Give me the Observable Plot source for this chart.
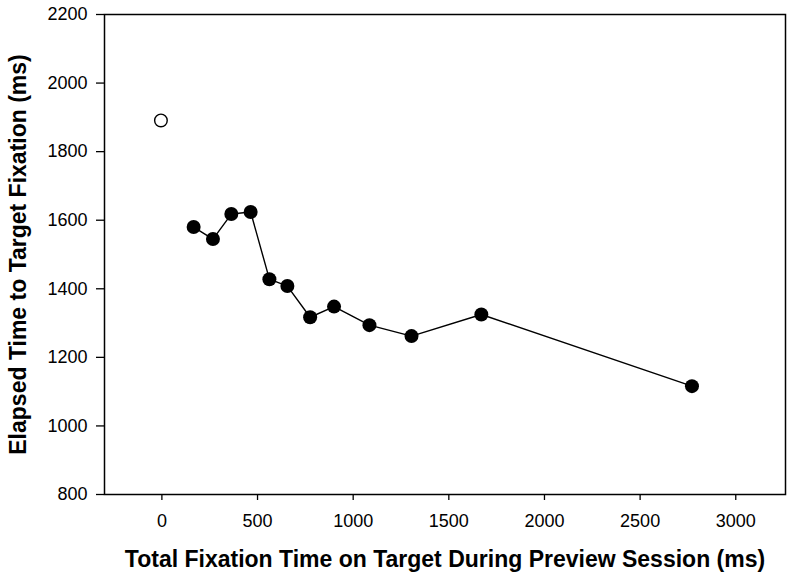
<!DOCTYPE html>
<html>
<head>
<meta charset="utf-8">
<script src="https://cdn.jsdelivr.net/npm/d3@7"></script>
<script src="https://cdn.jsdelivr.net/npm/@observablehq/plot@0.6"></script>
<style>
  html, body { margin: 0; padding: 0; background: #fff; }
  #chart svg { display: block; }
</style>
</head>
<body>
<div id="chart"></div>
<script>
// Open (baseline) point
const baselineX = [-5];
const baselineY = [1891];

// Filled series
const fixationTime = [166, 267, 363, 464, 562, 656, 775, 900, 1085, 1305, 1670, 2771];
const elapsedTime  = [1580, 1545, 1618, 1624, 1428, 1408, 1317, 1348, 1294, 1262, 1325, 1116];

const xTicks = [0, 500, 1000, 1500, 2000, 2500, 3000];
const yTicks = [800, 1000, 1200, 1400, 1600, 1800, 2000, 2200];

const xTitle = "Total Fixation Time on Target During Preview Session (ms)";
const yTitle = "Elapsed Time to Target Fixation (ms)";

const series = fixationTime.map((x, i) => ({x, y: elapsedTime[i]}));
const baseline = baselineX.map((x, i) => ({x, y: baselineY[i]}));

const chart = Plot.plot({
  width: 800,
  height: 582,
  marginLeft: 104,
  marginRight: 15,
  marginTop: 14,
  marginBottom: 88,
  style: {fontFamily: "'Liberation Sans', Arial, sans-serif", color: "#000", background: "#fff"},
  x: {domain: [-300, 3260]},
  y: {domain: [800, 2200]},
  marks: [
    Plot.axisX({ticks: xTicks, tickFormat: d => String(d), tickSize: 6, tickPadding: 14, fontSize: 18, label: null, strokeWidth: 1.3}),
    Plot.axisY({ticks: yTicks, tickFormat: d => String(d), tickSize: 8, tickPadding: 9, fontSize: 18, label: null, strokeWidth: 1.3}),
    Plot.frame({stroke: "#000", strokeWidth: 1.5}),
    Plot.line(series, {x: "x", y: "y", stroke: "#000", strokeWidth: 1.4}),
    Plot.dot(series, {x: "x", y: "y", r: 7, fill: "#000", stroke: "none"}),
    Plot.dot(baseline, {x: "x", y: "y", r: 6.3, fill: "#fff", stroke: "#000", strokeWidth: 1.4}),
    Plot.text([xTitle], {frameAnchor: "bottom", dy: 72, fontSize: 23, fontWeight: "bold", fill: "#000", textAnchor: "middle"}),
    Plot.text([yTitle], {frameAnchor: "left", dx: -86, rotate: -90, fontSize: 23, fontWeight: "bold", fill: "#000", textAnchor: "middle"})
  ]
});
document.getElementById("chart").appendChild(chart);
</script>
</body>
</html>
